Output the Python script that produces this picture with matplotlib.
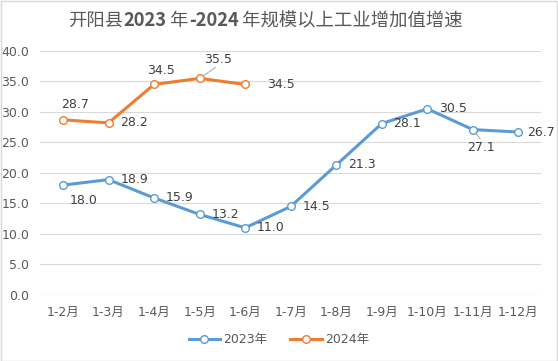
import matplotlib
matplotlib.use("Agg")
import matplotlib.pyplot as plt
from matplotlib.patches import Rectangle

plt.rcParams['font.family'] = ['DejaVu Sans', 'Noto Sans CJK SC']

months = ["1-2月", "1-3月", "1-4月", "1-5月", "1-6月", "1-7月",
          "1-8月", "1-9月", "1-10月", "1-11月", "1-12月"]
growth_2023 = [18.0, 18.9, 15.9, 13.2, 11.0, 14.5, 21.3, 28.1, 30.5, 27.1, 26.7]
growth_2024 = [28.7, 28.2, 34.5, 35.5, 34.5]
y_ticks = [0, 5, 10, 15, 20, 25, 30, 35, 40]

# label offsets in points (dx, dy), one per point
offs_2023 = [(5, -11), (8.5, 0), (8.5, 0), (8.5, 0), (8.5, 0), (8.5, 0),
             (8.5, 0), (8, 0), (8.5, 0), (-4, -13), (6, 0)]
offs_2024 = [(-1, 11), (8.5, 0), (-5, 10), (3.5, 13.5), (16, 0)]

BLUE = "#5B9BD5"
ORANGE = "#ED7D31"
TXT = "#404040"
GRAY = "#595959"

fig = plt.figure(figsize=(5.58, 3.61), dpi=100)
ax = fig.add_axes([0.072, 0.183, 0.898, 0.676])

x23 = list(range(len(growth_2023)))
x24 = list(range(len(growth_2024)))
ax.plot(x23, growth_2023, color=BLUE, lw=2.2, marker="o", ms=5.5,
        mfc="white", mec=BLUE, mew=1, label="2023年", zorder=3)
ax.plot(x24, growth_2024, color=ORANGE, lw=2.2, marker="o", ms=5.5,
        mfc="white", mec=ORANGE, mew=1, label="2024年", zorder=3)

for xi, v, o in zip(x23, growth_2023, offs_2023):
    ax.annotate(f"{v:.1f}", (xi, v), xytext=o, textcoords="offset points",
                ha="left", va="center", fontsize=9, color=TXT)
for xi, v, o in zip(x24, growth_2024, offs_2024):
    ax.annotate(f"{v:.1f}", (xi, v), xytext=o, textcoords="offset points",
                ha="left", va="center", fontsize=9, color=TXT)

# leader lines
ax.annotate("", (9, growth_2023[9]), xytext=(9.16, 25.6),
            arrowprops=dict(arrowstyle="-", color="#a6a6a6", lw=0.7,
                            shrinkA=0, shrinkB=3))
ax.annotate("", (3, growth_2024[3]), xytext=(3.35, 37.3),
            arrowprops=dict(arrowstyle="-", color="#a6a6a6", lw=0.7,
                            shrinkA=0, shrinkB=3))

ax.set_xlim(-0.5, len(months) - 0.5)
ax.set_ylim(0, 40)
ax.set_yticks(y_ticks)
ax.set_yticklabels([f"{t:.1f}" for t in y_ticks])
ax.set_xticks(range(len(months)))
ax.set_xticklabels(months)
ax.tick_params(length=0, labelsize=9, colors=GRAY)
ax.tick_params(axis="x", pad=8)
ax.tick_params(axis="y", pad=8)
ax.grid(axis="y", color="#d9d9d9", lw=0.8)
ax.set_axisbelow(True)
for s in ax.spines.values():
    s.set_visible(False)
ax.axhline(0, color="#d9d9d9", lw=0.8)

fig.legend(loc="lower center", bbox_to_anchor=(0.5, 0.01), ncol=2,
           frameon=False, fontsize=9, labelcolor=GRAY,
           handlelength=2.5, handletextpad=0.3, columnspacing=1.8)

# title with bold year numbers, built piece by piece
title_parts = [("开阳县", "normal"), ("2023", "bold"), (" 年", "normal"),
               ("-2024", "bold"), (" 年规模以上工业增加值增速", "normal")]
renderer = fig.canvas.get_renderer()
x_px = 68
for txt, w in title_parts:
    t = fig.text(x_px / 558, 0.942, txt, ha="left", va="center",
                 fontsize=13.2, color=GRAY, weight=w,
                 family=['Noto Sans CJK SC', 'DejaVu Sans'])
    x_px += t.get_window_extent(renderer).width

fig.patches.append(Rectangle((0.001, 0.001), 0.997, 0.996,
                             transform=fig.transFigure, fill=False,
                             ec="#d9d9d9", lw=1))

fig.savefig("out.png", dpi=100)
